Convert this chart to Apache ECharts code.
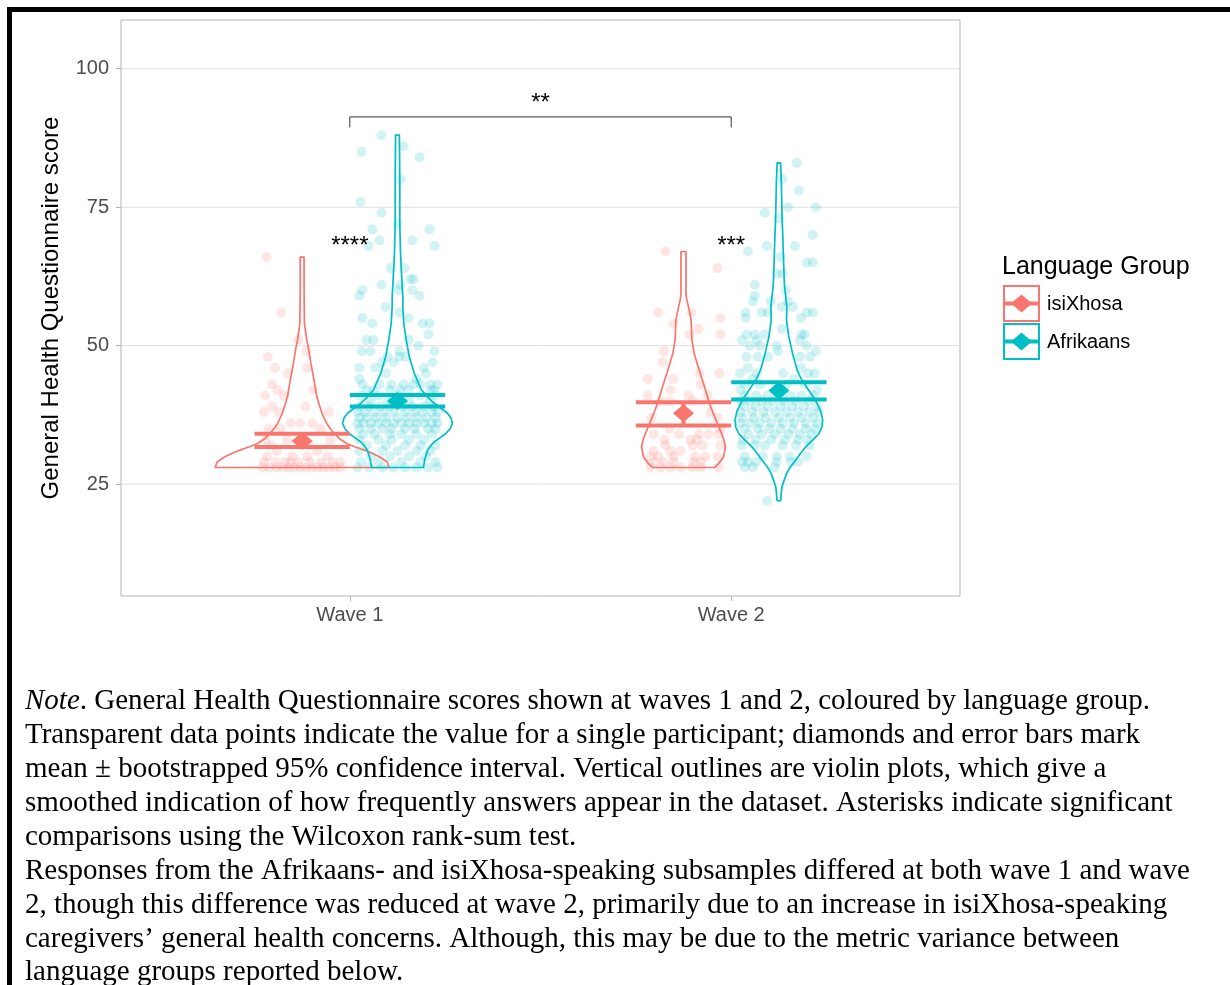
<!DOCTYPE html>
<html><head><meta charset="utf-8">
<script src="https://cdn.jsdelivr.net/npm/echarts@6/dist/echarts.min.js"></script>
<style>html,body{margin:0;padding:0;background:#fff;}#chart{width:1230px;height:985px;}</style>
</head><body><div id="chart"></div>
<script>
// ---------- data ----------
const waveLabels = ['Wave 1', 'Wave 2'];
const groupNames = ['isiXhosa', 'Afrikaans'];
const groupColors = ['#F8766D', '#00BFC4'];
const yTicks = [25, 50, 75, 100];

const xhosaMean = [32.8, 37.8];
const xhosaLow = [31.7, 35.6];
const xhosaHigh = [34.1, 39.8];
const afrMean = [40.0, 41.9];
const afrLow = [39.0, 40.3];
const afrHigh = [41.1, 43.4];

const groupSigLabels = ['****', '***'];   // isiXhosa vs Afrikaans within each wave
const waveSigLabel = '**';                // Afrikaans wave 1 vs wave 2 bracket

// individual participants: [jitter (category units), score]
const xhosaWave1 = [[-0.094,66],[-0.055,56],[-0.01,51],[-0.090,48],[0.011,49],[-0.071,46],[-0.037,45],[0.013,46],[-0.079,43],[-0.065,42],[0.030,42],
 [-0.097,41],[-0.048,41],[-0.079,39],[-0.061,38],[-0.100,38],[0.009,39],[0.069,38],[-0.030,36],[-0.005,36],[0.026,36],[-0.088,35],[-0.057,35],
 [0.048,35],[-0.096,33],[-0.040,33],[0.074,33],[-0.066,31],[-0.026,30],[0.040,31],[-0.092,30],[0.013,30],[0.066,30],[-0.030,29],[-0.08,32],[0.02,32],
 [-0.10,29],[-0.07,29],[-0.045,29],[-0.01,29],[0.02,29],[0.05,29],[0.08,29],[0.10,29],
 [-0.104,28],[-0.085,28],[-0.066,28],[-0.05,28],[-0.035,28],[-0.02,28],[-0.005,28],[0.01,28],[0.025,28],[0.04,28],[0.055,28],[0.07,28],[0.085,28],[0.10,28]];
const xhosaWave2 = [[-0.047,67],[0.089,64],[-0.066,56],[0.021,56],[0.097,55],[-0.026,54],[0.039,53],[0.097,52],[0.016,52],[-0.052,49],[-0.055,47],
 [0.094,45],[0.042,45],[-0.094,44],[-0.026,44],[-0.034,42],[0.045,43],[-0.094,41],[0.013,41],[0.063,41],[-0.06,40],[-0.037,40],[0.026,40],[0.071,38],
 [-0.084,37],[0.089,37],[-0.037,35],[-0.012,34],[-0.078,34],[0.04,34],[0.092,34],[0.097,35],[-0.05,33],[0.018,33],[0.036,33],[0.066,34],
 [-0.078,31],[-0.047,32],[-0.034,31],[-0.008,31],[0.024,32],[0.05,32],[0.097,32],
 [-0.087,30],[-0.066,30],[-0.026,30],[0.031,30],[0.058,30],[0.089,30],
 [-0.078,29],[-0.052,29],[-0.026,29],[0.026,29],[0.047,29],
 [-0.087,28],[-0.06,28],[-0.034,28],[-0.008,28],[0.023,28],[0.045,28],[0.092,28]];
const afrWave1 = [[-0.042,88],[-0.094,85],[0.016,86],[0.058,84],[0.008,80],[-0.097,76],[-0.042,74],[-0.066,71],[0.084,71],[0.0,72],[-0.047,69],
 [0.039,69],[-0.076,68],[0.097,68],[-0.018,64],[0.018,64],[0.034,62],[0.042,62],[-0.042,61],[0.008,61],[-0.092,60],[0.039,60],[0.003,60],[-0.1,59],[0.058,59],
 [-0.092,55],[-0.066,54],[-0.031,57],[0.029,55],[0.005,56],[0.066,54],[0.084,54],[0.081,52],[-0.063,51],[-0.081,51],[0.029,51],[-0.094,49],[-0.071,49],
 [0.005,49],[0.055,50],[0.097,49],[0.005,48],[-0.026,48],[-0.01,47],[0.021,48],[-0.1,46],[-0.058,46],[-0.04,47],[0.069,46],[0.092,47],
 [-0.092,43],[-0.047,43],[-0.016,43],[0.016,43],[0.042,43],[0.061,43],[0.087,43],[0.105,43],[-0.081,42],[-0.063,42],[-0.02,42],[0.007,42],[0.029,42],
 [0.087,42],[0.096,42],[-0.1,44],[0.05,44],[-0.03,45],[0.075,45],
 [-0.095,41],[-0.07,40],[-0.05,41],[-0.025,40],[0.0,41],[0.03,40],[0.06,41],[0.085,40],[0.1,41],
 [-0.1,39],[-0.075,39],[-0.045,39],[-0.02,39],[0.015,39],[0.04,39],[0.07,39],[0.095,39],
 [-0.105,38],[-0.085,38],[-0.06,38],[-0.035,38],[-0.01,38],[0.02,38],[0.045,38],[0.065,38],[0.09,38],[0.105,38],
 [-0.1,37],[-0.08,37],[-0.055,37],[-0.03,37],[0.0,37],[0.025,37],[0.05,37],[0.075,37],[0.1,37],
 [-0.105,36],[-0.09,36],[-0.07,36],[-0.05,36],[-0.03,36],[-0.01,36],[0.01,36],[0.03,36],[0.05,36],[0.07,36],[0.09,36],[0.105,36],
 [-0.1,35],[-0.07,35],[-0.04,35],[-0.015,35],[0.02,35],[0.045,35],[0.08,35],[0.1,35],
 [-0.09,34],[-0.06,34],[-0.02,34],[0.01,34],[0.05,34],[0.09,34],
 [-0.1,33],[-0.05,33],[-0.015,33],[0.03,33],[0.07,33],
 [-0.08,32],[-0.03,32],[0.02,32],[0.06,32],[0.1,32],
 [-0.1,31],[-0.04,31],[0.0,31],[0.05,31],[0.085,31],
 [-0.07,30],[-0.02,30],[0.03,30],[0.075,30],
 [-0.095,29],[-0.05,29],[0.01,29],[0.06,29],[0.1,29],
 [-0.105,28],[-0.075,28],[-0.04,28],[-0.01,28],[0.02,28],[0.05,28],[0.08,28],[0.105,28]];
const afrWave2 = [[0.047,83],[0.010,80],[0.052,78],[-0.037,74],[0.024,75],[0.097,75],[0.0,73],[0.089,70],[-0.081,67],[-0.031,68],[0.042,68],
 [0.005,66],[0.073,65],[0.089,65],[-0.005,63],[0.010,63],[-0.063,61],[0.018,60],[-0.063,59],[-0.068,58],[-0.021,58],[0.024,58],[0.037,57],[0.008,57],
 [-0.087,56],[-0.045,56],[-0.029,56],[0.073,56],[0.089,56],[-0.087,55],[0.058,55],[0.008,53],
 [-0.084,52],[-0.063,52],[-0.037,52],[0.060,52],[0.068,52],
 [-0.097,51],[-0.076,50],[-0.058,51],[-0.05,50],[-0.006,50],[0.055,51],[0.073,50],[0.097,49],
 [-0.085,48],[-0.055,48],[-0.028,48],[-0.002,49],[0.055,48],[0.082,48],
 [-0.102,45],[-0.081,46],[-0.058,45],[0.011,45],[0.059,46],[0.077,45],[0.094,45],
 [-0.089,43],[-0.05,43],[0.02,43],[0.068,43],[-0.07,44],[0.04,44],[-0.1,42],[0.1,42],
 [-0.09,41],[-0.06,41],[-0.03,41],[0.0,41],[0.03,41],[0.06,41],[0.09,41],
 [-0.1,40],[-0.075,40],[-0.045,40],[-0.015,40],[0.015,40],[0.045,40],[0.08,40],
 [-0.09,39],[-0.06,39],[-0.03,39],[0.005,39],[0.035,39],[0.065,39],[0.1,39],
 [-0.1,38],[-0.07,38],[-0.04,38],[-0.01,38],[0.02,38],[0.05,38],[0.08,38],[0.105,38],
 [-0.095,37],[-0.065,37],[-0.035,37],[0.0,37],[0.03,37],[0.06,37],[0.09,37],
 [-0.1,36],[-0.075,36],[-0.05,36],[-0.02,36],[0.01,36],[0.04,36],[0.07,36],[0.1,36],
 [-0.09,35],[-0.055,35],[-0.025,35],[0.005,35],[0.035,35],[0.07,35],[0.095,35],
 [-0.08,34],[-0.045,34],[-0.01,34],[0.025,34],[0.055,34],[0.085,34],
 [-0.095,33],[-0.06,33],[-0.02,33],[0.015,33],[0.05,33],[0.075,33],
 [-0.097,32],[-0.063,32],[-0.037,32],[0.01,32],[0.045,32],[0.081,32],
 [-0.089,30],[-0.042,30],[-0.005,30],[0.029,30],[0.073,30],
 [-0.097,29],[-0.081,29],[-0.06,29],[-0.005,29],[0.031,29],[0.05,29],
 [-0.089,28],[-0.068,28],[-0.011,28],[-0.031,22]];

// violin outlines: [score, half width in category units]
const violinXhosaW1 = [[28,0.228],[29,0.223],[29.9,0.204],[30.5,0.186],[31.1,0.165],[31.7,0.14],[32.3,0.118],[33.2,0.098],[34.1,0.085],[35,0.074],[36,0.064],
 [37.8,0.052],[39.3,0.045],[40.8,0.0385],[43.8,0.031],[46.8,0.023],[49.8,0.016],[51,0.012],[52.2,0.0097],[54,0.006],[60,0.005],[66,0.005]];
const violinXhosaW2 = [[28,0.081],[28.7,0.092],[29.9,0.105],[31.7,0.11],[33,0.106],[34.1,0.1],[35.3,0.093],[36.6,0.085],[38.1,0.076],[39.6,0.068],
 [42.6,0.055],[45.6,0.041],[48.6,0.028],[51,0.022],[54.6,0.020],[56,0.016],[57,0.013],[58.5,0.008],[59.4,0.0066],[67,0.0066]];
const violinAfrW1 = [[28,0.068],[29.6,0.072],[31.1,0.079],[32,0.088],[32.6,0.096],[33.4,0.112],[34.1,0.126],[35,0.138],[36,0.144],[37,0.14],[37.8,0.131],
 [38.7,0.114],[39.6,0.096],[40.8,0.078],[42,0.063],[45,0.044],[48,0.031],[51,0.023],[54,0.0165],[57,0.014],[58.8,0.014],[62.4,0.011],[66.6,0.008],[72,0.006],[80,0.006],[88,0.005]];
const violinAfrW2 = [[22,0.0045],[24.5,0.008],[26.9,0.02],[28.1,0.03],[29.3,0.044],[30.5,0.056],[31.7,0.07],[32.9,0.088],[34.1,0.105],[35.3,0.113],[36.6,0.115],
 [38.1,0.11],[39.6,0.1],[41.1,0.087],[42.6,0.072],[44.1,0.058],[45.6,0.048],[48.6,0.036],[51.6,0.026],[54.6,0.02],[57,0.021],[58.8,0.018],[61.2,0.0144],
 [66,0.012],[69.6,0.0105],[73.2,0.0084],[79.3,0.0066],[83,0.0045]];

const noteLines = [
 '{i|Note}. General Health Questionnaire scores shown at waves 1 and 2, coloured by language group.',
 'Transparent data points indicate the value for a single participant; diamonds and error bars mark',
 'mean \u00b1 bootstrapped 95% confidence interval. Vertical outlines are violin plots, which give a',
 'smoothed indication of how frequently answers appear in the dataset. Asterisks indicate significant',
 'comparisons using the Wilcoxon rank-sum test.',
 'Responses from the Afrikaans- and isiXhosa-speaking subsamples differed at both wave 1 and wave',
 '2, though this difference was reduced at wave 2, primarily due to an increase in isiXhosa-speaking',
 'caregivers\u2019 general health concerns. Although, this may be due to the metric variance between',
 'language groups reported below.'
];

// ---------- layout / style ----------
const dodge = [-0.125, 0.125];
const errHalf = 0.125;
const pointSets = [[xhosaWave1, xhosaWave2], [afrWave1, afrWave2]];
const violinSets = [[violinXhosaW1, violinXhosaW2], [violinAfrW1, violinAfrW2]];
const meanSets = [xhosaMean, afrMean], lowSets = [xhosaLow, afrLow], highSets = [xhosaHigh, afrHigh];
const SANS = 'Liberation Sans, Arial, sans-serif';
const SERIF = 'Liberation Serif, Times New Roman, serif';

const series = [];
// horizontal grid lines
series.push({
  type: 'custom', silent: true, z: 1, clip: true,
  data: yTicks.map(v => [0.4, v]),
  renderItem: (p, api) => {
    const v = yTicks[p.dataIndex];
    const a = api.coord([0.4, v]), b = api.coord([2.6, v]);
    return { type: 'line', shape: { x1: a[0], y1: a[1], x2: b[0], y2: b[1] }, style: { stroke: '#dedede', lineWidth: 1 } };
  }
});
// jittered points
for (let g = 0; g < 2; g++) {
  const data = [];
  for (let w = 0; w < 2; w++) pointSets[g][w].forEach(d => data.push([w + 1 + dodge[g] + d[0], d[1]]));
  series.push({ type: 'scatter', name: groupNames[g], data, symbol: 'circle', symbolSize: 10, z: 2, silent: true,
    itemStyle: { color: groupColors[g], opacity: 0.18 } });
}
// violins
for (let g = 0; g < 2; g++) {
  series.push({
    type: 'custom', silent: true, z: 3, clip: true,
    data: [[1, 30], [2, 30]],
    renderItem: (p, api) => {
      const w = p.dataIndex, c = w + 1 + dodge[g], v = violinSets[g][w];
      const pts = [];
      for (let k = 0; k < v.length; k++) pts.push(api.coord([c - v[k][1], v[k][0]]));
      for (let k = v.length - 1; k >= 0; k--) pts.push(api.coord([c + v[k][1], v[k][0]]));
      return { type: 'polygon', shape: { points: pts }, style: { fill: 'none', stroke: groupColors[g], lineWidth: 1.7, lineJoin: 'round' } };
    }
  });
}
// error bars
for (let g = 0; g < 2; g++) {
  series.push({
    type: 'custom', silent: true, z: 4,
    data: [[1, meanSets[g][0]], [2, meanSets[g][1]]],
    renderItem: (p, api) => {
      const w = p.dataIndex, c = w + 1 + dodge[g];
      const lo = lowSets[g][w], hi = highSets[g][w];
      const h1 = api.coord([c - errHalf, hi]), h2 = api.coord([c + errHalf, hi]);
      const l1 = api.coord([c - errHalf, lo]), l2 = api.coord([c + errHalf, lo]);
      const st = { stroke: groupColors[g], lineWidth: 4 };
      return { type: 'group', children: [
        { type: 'line', shape: { x1: h1[0], y1: h1[1], x2: h2[0], y2: h2[1] }, style: st },
        { type: 'line', shape: { x1: l1[0], y1: l1[1], x2: l2[0], y2: l2[1] }, style: st },
        { type: 'line', shape: { x1: (h1[0] + h2[0]) / 2, y1: h1[1], x2: (l1[0] + l2[0]) / 2, y2: l1[1] }, style: st }
      ] };
    }
  });
}
// mean diamonds
for (let g = 0; g < 2; g++) {
  series.push({ type: 'scatter', silent: true, z: 5, symbol: 'diamond', symbolSize: [21, 18],
    data: meanSets[g].map((m, w) => [w + 1 + dodge[g], m]),
    itemStyle: { color: groupColors[g], opacity: 1 } });
}
// significance annotations
series.push({
  type: 'custom', silent: true, z: 6, clip: false,
  data: [[1.5, 91.3]],
  renderItem: (p, api) => {
    const a = api.coord([1, 89.4]), b = api.coord([1, 91.3]), c = api.coord([2, 91.3]), d = api.coord([2, 89.4]);
    const mid = api.coord([1.5, 94.7]);
    const txt = (x, y, t) => ({ type: 'text', x: x, y: y + 5, style: { text: t, fontSize: 24, fontFamily: SANS, fill: '#000', align: 'center', verticalAlign: 'middle' } });
    const children = [
      { type: 'polyline', shape: { points: [a, b, c, d] }, style: { stroke: '#333', lineWidth: 1, fill: 'none' } },
      txt(mid[0], mid[1], waveSigLabel)
    ];
    groupSigLabels.forEach((t, w) => { const q = api.coord([w + 1, 68.8]); children.push(txt(q[0], q[1], t)); });
    return { type: 'group', children };
  }
});

// ---------- graphic: legend, note, border ----------
const graphic = [];
graphic.push({ type: 'rect', left: 7, top: 7, shape: { width: 1223, height: 5 }, style: { fill: '#000' }, silent: true });
graphic.push({ type: 'rect', left: 7, top: 7, shape: { width: 5, height: 978 }, style: { fill: '#000' }, silent: true });
graphic.push({ type: 'text', x: 1002, y: 267, style: { text: 'Language Group', fontSize: 25, fontFamily: SANS, fill: '#000', verticalAlign: 'middle' } });
const keyTop = [286, 324];
groupNames.forEach((n, g) => {
  const y0 = keyTop[g], cy = y0 + 17.5, cx = 1021.5;
  graphic.push({ type: 'rect', shape: { x: 1004, y: y0, width: 35, height: 35 }, style: { fill: '#fff', stroke: groupColors[g], lineWidth: 2 } });
  graphic.push({ type: 'line', shape: { x1: 1005, y1: cy, x2: 1038, y2: cy }, style: { stroke: groupColors[g], lineWidth: 4 } });
  graphic.push({ type: 'polygon', shape: { points: [[cx, cy - 9], [cx + 10.5, cy], [cx, cy + 9], [cx - 10.5, cy]] }, style: { fill: groupColors[g] } });
  graphic.push({ type: 'text', x: 1047, y: cy + 1, style: { text: n, fontSize: 20, fontFamily: SANS, fill: '#000', verticalAlign: 'middle' } });
});
const noteY = [701, 735, 769, 803, 837, 871, 905, 939, 972];
noteLines.forEach((t, i) => {
  graphic.push({ type: 'text', x: 25, y: noteY[i], style: { text: t, fontSize: 29, fontFamily: SERIF, fill: '#000', verticalAlign: 'middle',
    rich: { i: { fontStyle: 'italic', fontSize: 29, fontFamily: SERIF, fill: '#000' } } } });
});

const chart = echarts.init(document.getElementById('chart'), null, { renderer: 'canvas' });
chart.setOption({
  animation: false,
  backgroundColor: '#fff',
  grid: { left: 121, top: 20, width: 839, height: 576, show: true, borderColor: '#b3b3b3', borderWidth: 1, containLabel: false, outerBoundsMode: 'none' },
  xAxis: {
    type: 'value', min: 0.4, max: 2.6,
    axisLine: { show: false }, splitLine: { show: false },
    axisTick: { show: true, customValues: [1, 2], length: 5, lineStyle: { color: '#b3b3b3' } },
    axisLabel: { customValues: [1, 2], formatter: v => waveLabels[Math.round(v) - 1] || '', fontSize: 20, fontFamily: SANS, color: '#4d4d4d', margin: 9 }
  },
  yAxis: {
    type: 'value', min: 4.8, max: 108.8,
    name: 'General Health Questionnaire score', nameLocation: 'middle', nameRotate: 90, nameGap: 58,
    nameTextStyle: { fontSize: 24, fontFamily: SANS, color: '#000' },
    axisLine: { show: false }, splitLine: { show: false },
    axisTick: { show: true, customValues: yTicks, length: 5, lineStyle: { color: '#b3b3b3' } },
    axisLabel: { customValues: yTicks, fontSize: 20, fontFamily: SANS, color: '#4d4d4d', margin: 12 }
  },
  series,
  graphic
});
</script></body></html>
